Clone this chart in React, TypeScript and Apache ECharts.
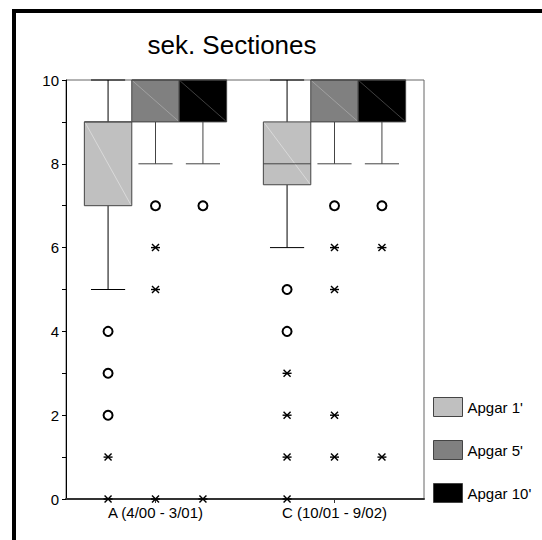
import React, { useEffect, useRef } from "react";
import * as echarts from "echarts";

const categories = ["A (4/00 - 3/01)", "C (10/01 - 9/02)"];
const seriesNames = ["Apgar 1'", "Apgar 5'", "Apgar 10'"];
const yTicks = [0, 2, 4, 6, 8, 10];

// [categoryIndex, min, Q1, median, Q3, max]
const apgar1Boxes = [
  [0, 5, 7, 9, 9, 10],
  [1, 6, 7.5, 8, 9, 10],
];
const apgar5Boxes = [
  [0, 8, 9, 10, 10, 10],
  [1, 8, 9, 10, 10, 10],
];
const apgar10Boxes = [
  [0, 8, 9, 10, 10, 10],
  [1, 8, 9, 10, 10, 10],
];

// outliers (circles): [categoryIndex, value]
const apgar1Circles = [[0, 4], [0, 3], [0, 2], [1, 5], [1, 4]];
const apgar5Circles = [[0, 7], [1, 7]];
const apgar10Circles = [[0, 7], [1, 7]];

// extremes (asterisks): [categoryIndex, value]
const apgar1Stars = [[0, 1], [0, 0], [1, 3], [1, 2], [1, 1], [1, 0]];
const apgar5Stars = [[0, 6], [0, 5], [0, 0], [1, 6], [1, 5], [1, 2], [1, 1]];
const apgar10Stars = [[0, 0], [1, 6], [1, 1]];

const FONT = "'Liberation Sans', Arial, sans-serif";
const fills = ["#c0c0c0", "#808080", "#000000"];
const diagColors = ["#e0e0e0", "#a8a8a8", "#505050"];
const whiskerColors = ["#000000", "#444444", "#444444"];

export default function App() {
  const ref = useRef<HTMLDivElement>(null);

  useEffect(() => {
    if (!ref.current) return;
    const chart = echarts.init(ref.current, null, { renderer: "svg" });

    const boxSets = [apgar1Boxes, apgar5Boxes, apgar10Boxes];
    const circleSets = [apgar1Circles, apgar5Circles, apgar10Circles];
    const starSets = [apgar1Stars, apgar5Stars, apgar10Stars];

    const boxSeries = boxSets.map((boxes, sIdx) => ({
      type: "custom",
      name: seriesNames[sIdx],
      itemStyle: { color: fills[sIdx], borderColor: "#444", borderWidth: 1 },
      encode: { x: 0, y: [1, 2, 3, 4, 5] },
      data: boxes,
      z: 2,
      renderItem: (params: any, api: any) => {
        const cat = api.value(0);
        const band = api.size([1, 0])[0];
        const w = band * 0.265;
        const cx = api.coord([cat, 0])[0] + (sIdx - 1) * w;
        const yMin = api.coord([cat, api.value(1)])[1];
        const yQ1 = api.coord([cat, api.value(2)])[1];
        const yMed = api.coord([cat, api.value(3)])[1];
        const yQ3 = api.coord([cat, api.value(4)])[1];
        const yMax = api.coord([cat, api.value(5)])[1];
        const x0 = cx - w / 2;
        const capW = w * 0.72;
        const ws = { stroke: whiskerColors[sIdx], lineWidth: 1 };
        const children: any[] = [];
        if (yMin > yQ1) {
          children.push({ type: "line", shape: { x1: cx, y1: yQ1, x2: cx, y2: yMin }, style: ws });
          children.push({ type: "line", shape: { x1: cx - capW / 2, y1: yMin, x2: cx + capW / 2, y2: yMin }, style: ws });
        }
        if (yMax < yQ3) {
          children.push({ type: "line", shape: { x1: cx, y1: yQ3, x2: cx, y2: yMax }, style: ws });
          children.push({ type: "line", shape: { x1: cx - capW / 2, y1: yMax, x2: cx + capW / 2, y2: yMax }, style: ws });
        }
        children.push({
          type: "rect",
          shape: { x: x0, y: yQ3, width: w, height: yQ1 - yQ3 },
          style: { fill: fills[sIdx], stroke: "#444", lineWidth: 1 },
        });
        children.push({
          type: "line",
          shape: { x1: x0 + 1, y1: yQ3 + 1, x2: x0 + w - 1, y2: yQ1 - 1 },
          style: { stroke: diagColors[sIdx], lineWidth: 0.8 },
        });
        children.push({
          type: "line",
          shape: { x1: x0, y1: yMed, x2: x0 + w, y2: yMed },
          style: { stroke: "#444", lineWidth: 1 },
        });
        return { type: "group", children };
      },
    }));

    const pointData: any[] = [];
    circleSets.forEach((arr, sIdx) => arr.forEach((p) => pointData.push([p[0], p[1], sIdx, 0])));
    starSets.forEach((arr, sIdx) => arr.forEach((p) => pointData.push([p[0], p[1], sIdx, 1])));

    const pointSeries = {
      type: "custom",
      name: "points",
      encode: { x: 0, y: 1 },
      data: pointData,
      z: 5,
      renderItem: (params: any, api: any) => {
        const cat = api.value(0);
        const band = api.size([1, 0])[0];
        const w = band * 0.265;
        const sIdx = api.value(2);
        const kind = api.value(3);
        const pt = api.coord([cat, api.value(1)]);
        const cx = pt[0] + (sIdx - 1) * w;
        const cy = pt[1];
        if (kind === 0) {
          return {
            type: "circle",
            shape: { cx, cy, r: 4.5 },
            style: { fill: "#fff", stroke: "#000", lineWidth: 2 },
          };
        }
        const s = { stroke: "#000", lineWidth: 1.4 };
        return {
          type: "group",
          children: [
            { type: "line", shape: { x1: cx - 4.5, y1: cy, x2: cx + 4.5, y2: cy }, style: s },
            { type: "line", shape: { x1: cx - 3.5, y1: cy - 3.5, x2: cx + 3.5, y2: cy + 3.5 }, style: s },
            { type: "line", shape: { x1: cx - 3.5, y1: cy + 3.5, x2: cx + 3.5, y2: cy - 3.5 }, style: s },
          ],
        };
      },
    };

    chart.setOption({
      animation: false,
      backgroundColor: "#fff",
      textStyle: { fontFamily: FONT },
      grid: {
        left: 66,
        right: 118,
        top: 80,
        bottom: 41,
        show: true,
        borderColor: "#666",
        borderWidth: 1,
        backgroundColor: "transparent",
      },
      legend: {
        orient: "vertical",
        left: 433,
        top: 397,
        padding: 0,
        itemWidth: 29,
        itemHeight: 19,
        itemGap: 23,
        icon: "rect",
        textStyle: { fontSize: 15, color: "#000", fontFamily: FONT },
        data: seriesNames.map((n, i) => ({
          name: n,
          itemStyle: { color: fills[i], borderColor: "#444", borderWidth: 1 },
        })),
      },
      xAxis: {
        type: "category",
        data: categories,
        boundaryGap: true,
        axisLine: { lineStyle: { color: "#333", width: 2 } },
        axisTick: { show: true, alignWithLabel: true, length: 4, lineStyle: { color: "#333" } },
        axisLabel: { fontSize: 15, color: "#000", margin: 6, fontFamily: FONT },
        splitLine: { show: false },
      },
      yAxis: {
        type: "value",
        min: 0,
        max: 10,
        interval: 1,
        axisLine: { show: true, lineStyle: { color: "#000", width: 1 } },
        axisTick: { show: true, length: 4, lineStyle: { color: "#000" } },
        axisLabel: {
          fontSize: 15,
          color: "#000",
          margin: 7,
          fontFamily: FONT,
          formatter: (v: number) => (yTicks.includes(v) ? String(v) : ""),
        },
        splitLine: { show: false },
      },
      graphic: [
        {
          type: "rect",
          shape: { x: 14, y: 11, width: 700, height: 700 },
          style: { fill: "none", stroke: "#000", lineWidth: 4 },
          z: 100,
        },
        {
          type: "text",
          x: 232,
          y: 45,
          style: {
            text: "sek. Sectiones",
            fontSize: 26,
            fontFamily: FONT,
            fill: "#000",
            textAlign: "center",
            textVerticalAlign: "middle",
          },
        },
      ],
      series: [...boxSeries, pointSeries],
    });

    return () => chart.dispose();
  }, []);

  return (
    <div
      ref={ref}
      style={{ position: "fixed", left: 0, top: 0, width: 542, height: 540 }}
    />
  );
}
